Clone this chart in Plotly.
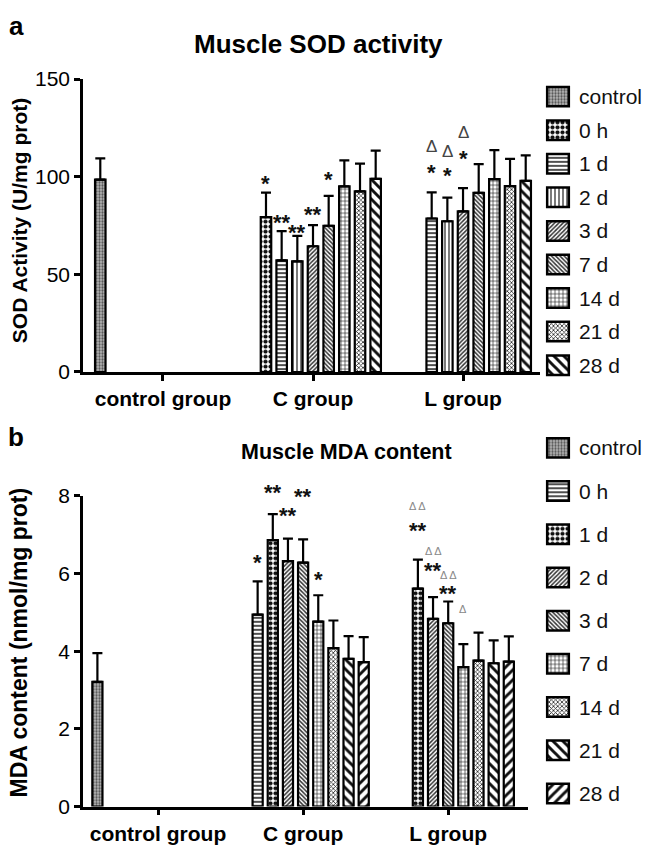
import plotly.graph_objects as go

# ---------------- data ----------------
SERIES = ["control", "0 h", "1 d", "2 d", "3 d", "7 d", "14 d", "21 d", "28 d"]
GROUPS = ["control group", "C group", "L group"]

# Panel a: SOD activity (U/mg prot)
SOD_CONTROL = 98.5
SOD_CONTROL_ERR = 10.9
SOD_C = [79.3, 57.2, 56.7, 64.4, 74.9, 95.1, 92.5, 98.9]      # 0 h .. 28 d
SOD_C_ERR = [12.6, 14.9, 13.0, 10.8, 15.3, 13.3, 14.2, 14.5]
SOD_L = [78.6, 77.2, 82.3, 91.7, 98.8, 95.2, 97.9]            # 1 d .. 28 d
SOD_L_ERR = [13.4, 12.1, 11.9, 14.8, 14.8, 14.0, 13.0]

# Panel b: MDA content (nmol/mg prot)
MDA_CONTROL = 3.21
MDA_CONTROL_ERR = 0.74
MDA_C = [4.94, 6.86, 6.32, 6.28, 4.76, 4.08, 3.80, 3.72]      # 0 h .. 28 d
MDA_C_ERR = [0.86, 0.67, 0.58, 0.60, 0.68, 0.71, 0.59, 0.64]
MDA_L = [5.61, 4.83, 4.72, 3.59, 3.76, 3.69, 3.73]            # 1 d .. 28 d
MDA_L_ERR = [0.75, 0.56, 0.56, 0.59, 0.72, 0.59, 0.65]

# significance marks: (series, group, text, y-value)
SOD_MARKS = [
    ("0 h", "C group", "*", 99.6), ("1 d", "C group", "**", 79.7),
    ("2 d", "C group", "**", 74.7), ("3 d", "C group", "**", 83.5),
    ("7 d", "C group", "*", 101.5),
    ("1 d", "L group", "*", 105.5), ("2 d", "L group", "*", 103.8),
    ("3 d", "L group", "*", 112.5),
]
SOD_DELTAS = [("1 d", "L group", "Δ", 115.4), ("2 d", "L group", "Δ", 113.0),
              ("3 d", "L group", "Δ", 122.9)]
MDA_MARKS = [
    ("0 h", "C group", "*", 6.45), ("1 d", "C group", "**", 8.23),
    ("2 d", "C group", "**", 7.64), ("3 d", "C group", "**", 8.14),
    ("7 d", "C group", "*", 6.0),
    ("1 d", "L group", "**", 7.25), ("2 d", "L group", "**", 6.24),
    ("3 d", "L group", "**", 5.63),
]
MDA_DELTAS = [("1 d", "L group", "Δ Δ", 7.73), ("2 d", "L group", "Δ Δ", 6.58),
              ("3 d", "L group", "Δ Δ", 5.96), ("7 d", "L group", "Δ", 5.08)]

# ---------------- styles / geometry ----------------
W, H = 647, 849
FONT = "Liberation Sans, Arial, sans-serif"
BARGAP = 0.06
BARGROUPGAP = 0.33
NS = len(SERIES)

def px_x(p):
    return p / W

def px_y(p):
    return 1 - p / H

def pat(shape, size, sol, fg="#222", bg="white"):
    return dict(shape=shape, size=size, solidity=sol, fgcolor=fg, bgcolor=bg, fillmode="replace")

CTRL = pat(".", 3, 0.45, fg="#555", bg="#b8b8b8")
DOTS = pat(".", 5, 0.55, fg="#111")
STYLES_A = [CTRL, DOTS, pat("-", 4, 0.4), pat("|", 4, 0.3),
            pat("/", 3, 0.5, fg="#333"), pat("\\", 3, 0.5, fg="#333"), pat("+", 4, 0.3),
            pat("x", 3, 0.45, fg="#222"), pat("\\", 7, 0.42, fg="#111")]
STYLES_B = [CTRL, pat("-", 4, 0.4), DOTS, pat("/", 3, 0.5, fg="#333"),
            pat("\\", 3, 0.5, fg="#333"), pat("+", 4, 0.3), pat("x", 3, 0.45, fg="#222"),
            pat("\\", 7, 0.42, fg="#111"), pat("/", 7, 0.42, fg="#111")]

PANEL_GEOM = [
    dict(xdom=[px_x(83), px_x(540)], xrange=[-0.533, 2.513], ydom=[px_y(370), px_y(69)], yrange=[0, 150]),
    dict(xdom=[px_x(83), px_x(528)], xrange=[-0.517, 2.55], ydom=[px_y(816.7), px_y(497.3)], yrange=[0, 8]),
]

def slot_x(gi, si):
    w = (1 - BARGAP) / NS
    return gi - (1 - BARGAP) / 2 + w * (si + 0.5)

def to_paper(geom, xv, yv):
    (x0, x1), (r0, r1) = geom["xdom"], geom["xrange"]
    (y0, y1), (s0, s1) = geom["ydom"], geom["yrange"]
    return x0 + (xv - r0) / (r1 - r0) * (x1 - x0), y0 + (yv - s0) / (s1 - s0) * (y1 - y0)

def series_values(si, ctrl, cvals, lvals):
    out = [None, None, None]
    if si == 0:
        out[0] = ctrl
    if si >= 1:
        out[1] = cvals[si - 1]
    if si >= 2:
        out[2] = lvals[si - 2]
    return out

fig = go.Figure()

panels = [
    dict(ctrl=(SOD_CONTROL, SOD_CONTROL_ERR), c=(SOD_C, SOD_C_ERR), l=(SOD_L, SOD_L_ERR),
         styles=STYLES_A, xa="x", ya="y", marks=SOD_MARKS, deltas=SOD_DELTAS,
         delta_size=17, delta_color="#444", geom=PANEL_GEOM[0]),
    dict(ctrl=(MDA_CONTROL, MDA_CONTROL_ERR), c=(MDA_C, MDA_C_ERR), l=(MDA_L, MDA_L_ERR),
         styles=STYLES_B, xa="x2", ya="y2", marks=MDA_MARKS, deltas=MDA_DELTAS,
         delta_size=11, delta_color="#888", geom=PANEL_GEOM[1]),
]

annotations = []
for p in panels:
    for si, name in enumerate(SERIES):
        y = series_values(si, p["ctrl"][0], p["c"][0], p["l"][0])
        e = series_values(si, p["ctrl"][1], p["c"][1], p["l"][1])
        fig.add_trace(go.Bar(
            x=GROUPS, y=y, name=name, showlegend=False,
            xaxis=p["xa"], yaxis=p["ya"],
            marker=dict(color="white", line=dict(color="black", width=2.2), pattern=p["styles"][si]),
            error_y=dict(type="data", symmetric=False, array=e, arrayminus=[0, 0, 0],
                         color="black", thickness=2.2, width=5),
        ))
    for s, g, t, v in p["marks"]:
        ax_, ay_ = to_paper(p["geom"], slot_x(GROUPS.index(g), SERIES.index(s)), v)
        annotations.append(dict(x=ax_, y=ay_, xref="paper", yref="paper",
                                text="<b>" + t + "</b>", showarrow=False, xanchor="center",
                                yanchor="middle", yshift=-6,
                                font=dict(family=FONT, size=22, color="#111")))
    for s, g, t, v in p["deltas"]:
        ax_, ay_ = to_paper(p["geom"], slot_x(GROUPS.index(g), SERIES.index(s)), v)
        annotations.append(dict(x=ax_, y=ay_, xref="paper", yref="paper",
                                text=t, showarrow=False, xanchor="center", yanchor="middle",
                                font=dict(family=FONT, size=p["delta_size"], color=p["delta_color"])))

# ---------------- custom legends (patterned swatches on hidden axes) ----------------
LEG = [
    dict(styles=STYLES_A, xa="x3", ya="y3", top=87, step=34.5, box=20),
    dict(styles=STYLES_B, xa="x4", ya="y4", top=448, step=44.4, box=20),
]
for L in LEG:
    hbox = L["box"] / L["step"]
    for si, name in enumerate(SERIES):
        pos = (NS - 1) - si
        fig.add_trace(go.Bar(
            x=[0], y=[hbox], base=[pos - hbox / 2], width=[1], offsetgroup="leg",
            xaxis=L["xa"], yaxis=L["ya"], showlegend=False, hoverinfo="skip",
            marker=dict(color="white", line=dict(color="black", width=2.5), pattern=L["styles"][si]),
        ))
        annotations.append(dict(x=px_x(577), y=px_y(L["top"] + si * L["step"]), xref="paper", yref="paper",
                                text=name, showarrow=False, xanchor="left", yanchor="middle",
                                font=dict(family=FONT, size=21, color="#111")))

# ---------------- titles & labels ----------------
def label(x, y, text, size, angle=0):
    return dict(x=px_x(x), y=px_y(y), xref="paper", yref="paper", text=text, showarrow=False,
                xanchor="center", yanchor="middle", textangle=angle,
                font=dict(family=FONT, size=size, color="black"))

annotations += [
    label(16, 14, "<b>a</b>", 26),
    label(16, 437, "<b>b</b>", 26),
    label(318, 33, "<b>Muscle SOD activity</b>", 26),
    label(346, 452, "<b>Muscle MDA content</b>", 21.5),
    label(19, 215, "<b>SOD Activity (U/mg prot)</b>", 21, -90),
    label(19, 648, "<b>MDA content (nmol/mg prot)</b>", 23, -90),
]

axis_common = dict(showline=True, linecolor="black", linewidth=2.5, ticks="outside", ticklen=6,
                   tickwidth=2.5, tickcolor="black", showgrid=False, zeroline=False,
                   tickfont=dict(family=FONT, size=21, color="black"))
hidden = dict(visible=False, showgrid=False, zeroline=False, fixedrange=True)
g0, g1 = PANEL_GEOM

fig.update_layout(
    width=W, height=H, autosize=False,
    margin=dict(l=0, r=0, t=0, b=0),
    paper_bgcolor="white", plot_bgcolor="white",
    barmode="group", bargap=BARGAP, bargroupgap=BARGROUPGAP,
    showlegend=False,
    xaxis=dict(axis_common, domain=g0["xdom"], anchor="y", range=g0["xrange"],
               type="category", categoryorder="array", categoryarray=GROUPS, tickprefix="<b>", ticksuffix="</b>"),
    yaxis=dict(axis_common, domain=g0["ydom"], anchor="x", range=g0["yrange"],
               tickvals=[0, 50, 100, 150], tickprefix="<b>", ticksuffix="</b>"),
    xaxis2=dict(axis_common, domain=g1["xdom"], anchor="y2", range=g1["xrange"],
                type="category", categoryorder="array", categoryarray=GROUPS, tickprefix="<b>", ticksuffix="</b>"),
    yaxis2=dict(axis_common, domain=g1["ydom"], anchor="x2", range=g1["yrange"],
                tickvals=[0, 2, 4, 6, 8], tickprefix="<b>", ticksuffix="</b>"),
    xaxis3=dict(hidden, domain=[px_x(545), px_x(571)], anchor="y3", range=[-0.6, 0.6]),
    yaxis3=dict(hidden, domain=[px_y(87 + 8 * 34.5 + 17.25), px_y(87 - 17.25)], anchor="x3", range=[-0.5, 8.5]),
    xaxis4=dict(hidden, domain=[px_x(545), px_x(571)], anchor="y4", range=[-0.6, 0.6]),
    yaxis4=dict(hidden, domain=[px_y(448 + 8 * 44.4 + 22.2), px_y(448 - 22.2)], anchor="x4", range=[-0.5, 8.5]),
    annotations=annotations,
)

fig.write_html("out.html", config={"displayModeBar": False},
               post_script="document.body.style.margin='0px';")
